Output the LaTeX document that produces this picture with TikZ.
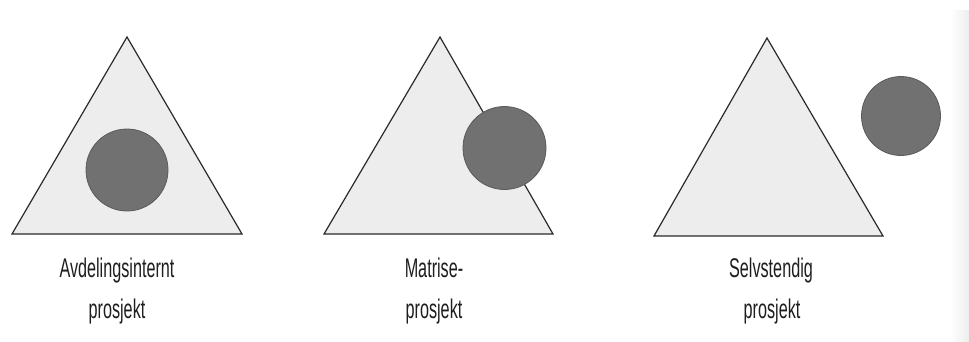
\documentclass[tikz,border=0pt]{standalone}
\usepackage{fontspec}
\setmainfont{Liberation Sans}
\usepackage{graphicx}
\definecolor{trifill}{HTML}{EDEDED}
\definecolor{edge}{HTML}{2A2A2A}
\definecolor{disc}{HTML}{717171}
\definecolor{discedge}{HTML}{5A5A5A}
\definecolor{txt}{HTML}{1E1E1E}
\begin{document}
\begin{tikzpicture}[x=1pt,y=-1pt,
  tri/.style={fill=trifill,draw=edge,line width=1.2pt,line join=miter},
  dot/.style={fill=disc,draw=discedge,line width=0.8pt},
  lbl/.style={text=txt,font=\fontsize{27}{27}\selectfont,inner sep=0pt,anchor=base}]
\useasboundingbox (0,0) rectangle (969,341);
\fill[white] (0,0) rectangle (969,341);
\shade[left color=white,right color=gray!14] (950,10) rectangle (969,341);
% triangle 1
\draw[tri] (127,37) -- (242,234) -- (12,234) -- cycle;
\draw[dot] (127,170) circle[radius=41];
% triangle 2
\draw[tri] (440,37) -- (553,234) -- (324,234) -- cycle;
\draw[dot] (504.5,148) circle[radius=41.5];
% triangle 3
\draw[tri] (767,38) -- (883,236) -- (654,236) -- cycle;
\draw[dot] (901,116) circle[radius=39.5];
% labels
\node[lbl] (l1a) at (117,277) {\scalebox{0.6}[1]{Avdelingsinternt}};
\node[lbl] (l1b) at (117,318) {\scalebox{0.6}[1]{prosjekt}};
\node[lbl] (l2a) at (434,277) {\scalebox{0.6}[1]{Matrise-}};
\node[lbl] (l2b) at (434,318) {\scalebox{0.6}[1]{prosjekt}};
\node[lbl] (l3a) at (771,277) {\scalebox{0.6}[1]{Selvstendig}};
\node[lbl] (l3b) at (772,318) {\scalebox{0.6}[1]{prosjekt}};
\end{tikzpicture}
\end{document}
